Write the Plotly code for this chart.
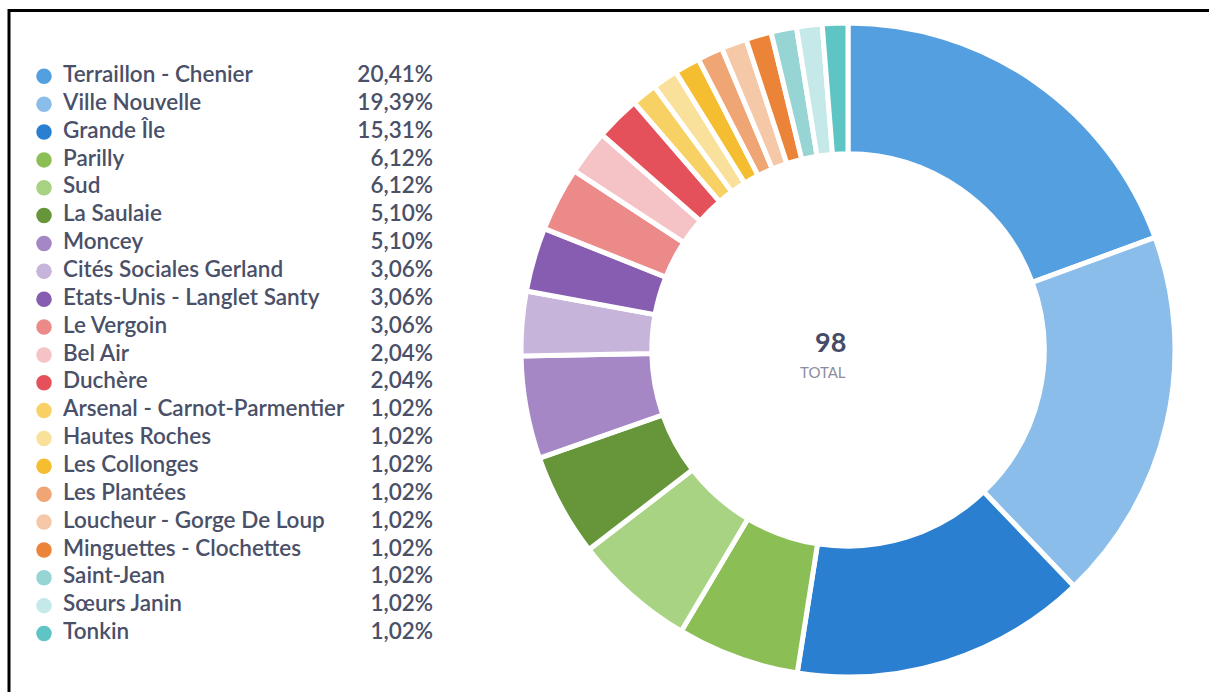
import plotly.graph_objects as go

names = ["Terraillon - Chenier", "Ville Nouvelle", "Grande Île", "Parilly", "Sud",
         "La Saulaie", "Moncey", "Cités Sociales Gerland", "Etats-Unis - Langlet Santy",
         "Le Vergoin", "Bel Air", "Duchère", "Arsenal - Carnot-Parmentier", "Hautes Roches",
         "Les Collonges", "Les Plantées", "Loucheur - Gorge De Loup", "Minguettes - Clochettes",
         "Saint-Jean", "Sœurs Janin", "Tonkin"]
counts = [20, 19, 15, 6, 6, 5, 5, 3, 3, 3, 2, 2, 1, 1, 1, 1, 1, 1, 1, 1, 1]
percent_labels = ["20,41%", "19,39%", "15,31%", "6,12%", "6,12%", "5,10%", "5,10%",
                  "3,06%", "3,06%", "3,06%", "2,04%", "2,04%", "1,02%", "1,02%", "1,02%",
                  "1,02%", "1,02%", "1,02%", "1,02%", "1,02%", "1,02%"]
colors = ["#539FE0", "#8BBDEB", "#2B7FD0", "#8BBF55", "#A8D383", "#67963A", "#A687C6",
          "#C7B4DA", "#865DB0", "#EC8A8A", "#F5C3C6", "#E5515A", "#F8D164", "#F9E19C",
          "#F4BE30", "#F0A574", "#F5C8A8", "#EB8438", "#97D5D5", "#C5E8E8", "#5EC4C4"]
total_label = "98"
total_caption = "TOTAL"

W, H = 1209, 692
text_color = "#4A5068"
font_family = "Lato, 'Open Sans', sans-serif"

# The original donut reserves a fixed pad angle per slice (like d3 padAngle),
# so each slice's sweep = pad + proportional share of the remaining circle.
pad_deg = 1.1
n = len(counts)
total = sum(counts)
deg_per_unit = (360 - n * pad_deg) / total
sweep_values = [pad_deg + c * deg_per_unit for c in counts]

fig = go.Figure()

# Donut
cx, cy, R = 848, 350, 327
fig.add_trace(go.Pie(
    labels=names, values=sweep_values, customdata=counts, sort=False,
    direction="clockwise", rotation=0,
    hole=0.6, textinfo="none", showlegend=False,
    hovertemplate="%{label}: %{customdata}<extra></extra>",
    marker=dict(colors=colors, line=dict(color="white", width=5)),
    domain=dict(x=[(cx - R) / W, (cx + R) / W], y=[(H - cy - R) / H, (H - cy + R) / H]),
))

# Legend rows (row index on y axis)
rows = list(range(len(names)))
fig.add_trace(go.Scatter(
    x=[44] * len(names), y=rows, mode="markers",
    marker=dict(color=colors, size=15.5, line=dict(width=0)),
    showlegend=False, hoverinfo="skip",
))
fig.add_trace(go.Scatter(
    x=[63] * len(names), y=rows, mode="text", text=names, textposition="middle right",
    textfont=dict(family=font_family, size=22.5, color=text_color, weight=600),
    showlegend=False, hoverinfo="skip",
))
fig.add_trace(go.Scatter(
    x=[433] * len(names), y=rows, mode="text", text=percent_labels, textposition="middle left",
    textfont=dict(family=font_family, size=22.5, color=text_color, weight=600),
    showlegend=False, hoverinfo="skip",
))

# y axis: row 0 at y=76px, last row at y=633px
row0, rowN = 76.3, 633.5
step = (rowN - row0) / (len(names) - 1)
y_top = -row0 / step
y_bot = y_top + H / step

fig.update_xaxes(range=[0, W], domain=[0, 1], visible=False, fixedrange=True)
fig.update_yaxes(range=[y_bot, y_top], domain=[0, 1], visible=False, fixedrange=True)

fig.add_annotation(x=(cx) / W, y=(H - 341.5) / H, xref="paper", yref="paper",
                   text="<b>" + total_label + "</b>", showarrow=False,
                   font=dict(family=font_family, size=27, color="#454B66"))
fig.add_annotation(x=(cx) / W, y=(H - 372) / H, xref="paper", yref="paper",
                   text=total_caption, showarrow=False,
                   font=dict(family=font_family, size=15, color="#8A8E9C"))

# frame
fig.add_shape(type="rect", xref="paper", yref="paper",
              x0=9 / W, x1=1.02, y0=-0.02, y1=(H - 10.5) / H,
              line=dict(color="black", width=3))

fig.update_layout(width=W, height=H, margin=dict(l=0, r=0, t=0, b=0),
                  paper_bgcolor="white", plot_bgcolor="rgba(0,0,0,0)")

fig.write_html("out.html", config={"displayModeBar": False},
               post_script="document.body.style.margin='0px';document.body.style.overflow='hidden';")
